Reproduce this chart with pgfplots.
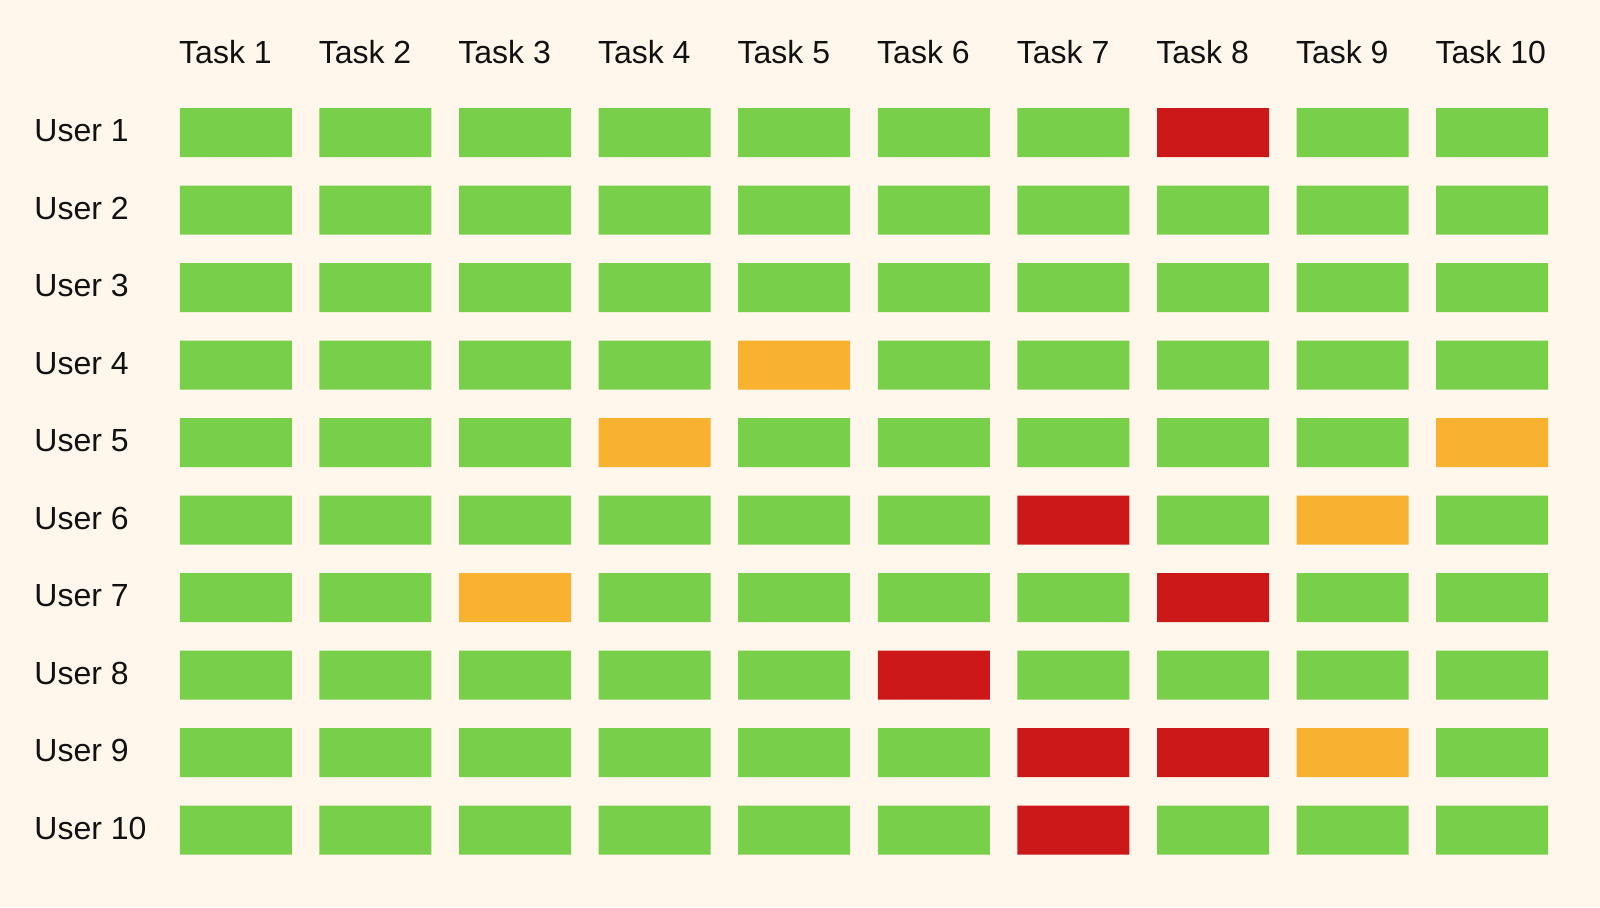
\documentclass[border=0pt]{standalone}
\usepackage{fontspec}
\setmainfont{Liberation Sans}
\usepackage{pgfplots}
\usepackage{pgfplotstable}
\pgfplotsset{compat=1.18}
\definecolor{bg}{HTML}{FFF7EC}
\definecolor{cgreen}{HTML}{78CF4A}
\definecolor{corange}{HTML}{F9B22F}
\definecolor{cred}{HTML}{CC1818}
\definecolor{txt}{HTML}{111111}
\pgfdeclareplotmark{cell}{%
  \pgfsetcornersarced{\pgfqpoint{1.8pt}{1.8pt}}%
  \pgfpathmoveto{\pgfqpoint{0pt}{-12.25pt}}%
  \pgfpathlineto{\pgfqpoint{28pt}{-12.25pt}}%
  \pgfpathlineto{\pgfqpoint{28pt}{12.25pt}}%
  \pgfpathlineto{\pgfqpoint{-28pt}{12.25pt}}%
  \pgfpathlineto{\pgfqpoint{-28pt}{-12.25pt}}%
  \pgfpathclose
  \pgfusepathqfill}
\pgfplotstableread{
x y s
1 1 g
2 1 g
3 1 g
4 1 g
5 1 g
6 1 g
7 1 g
8 1 r
9 1 g
10 1 g
1 2 g
2 2 g
3 2 g
4 2 g
5 2 g
6 2 g
7 2 g
8 2 g
9 2 g
10 2 g
1 3 g
2 3 g
3 3 g
4 3 g
5 3 g
6 3 g
7 3 g
8 3 g
9 3 g
10 3 g
1 4 g
2 4 g
3 4 g
4 4 g
5 4 o
6 4 g
7 4 g
8 4 g
9 4 g
10 4 g
1 5 g
2 5 g
3 5 g
4 5 o
5 5 g
6 5 g
7 5 g
8 5 g
9 5 g
10 5 o
1 6 g
2 6 g
3 6 g
4 6 g
5 6 g
6 6 g
7 6 r
8 6 g
9 6 o
10 6 g
1 7 g
2 7 g
3 7 o
4 7 g
5 7 g
6 7 g
7 7 g
8 7 r
9 7 g
10 7 g
1 8 g
2 8 g
3 8 g
4 8 g
5 8 g
6 8 r
7 8 g
8 8 g
9 8 g
10 8 g
1 9 g
2 9 g
3 9 g
4 9 g
5 9 g
6 9 g
7 9 r
8 9 r
9 9 o
10 9 g
1 10 g
2 10 g
3 10 g
4 10 g
5 10 g
6 10 g
7 10 r
8 10 g
9 10 g
10 10 g
}\cells
\begin{document}
\begin{tikzpicture}
\fill[bg] (0,0) rectangle (800pt,453.5pt);
\begin{axis}[
  at={(83pt,19.08pt)}, anchor=south west,
  scale only axis, width=698pt, height=387.5pt,
  xmin=0.5, xmax=10.5, ymin=0.5, ymax=10.5,
  y dir=reverse, clip=false,
  axis line style={draw=none},
  tick style={draw=none},
  xtick={1,...,10}, ytick={1,...,10},
  xticklabel pos=upper,
  xticklabels={Task 1,Task 2,Task 3,Task 4,Task 5,Task 6,Task 7,Task 8,Task 9,Task 10},
  yticklabels={User 1,User 2,User 3,User 4,User 5,User 6,User 7,User 8,User 9,User 10},
  ticklabel style={font=\fontsize{16}{19}\selectfont, text=txt, inner sep=0pt},
  xticklabel style={anchor=base west, xshift=-28.5pt, yshift=15.4pt},
  yticklabel style={anchor=base west, xshift=-66pt, yshift=-4.6pt},
]
\addplot[scatter, only marks, scatter src=explicit symbolic,
  scatter/classes={
    g={mark=cell, fill=cgreen, draw=none},
    o={mark=cell, fill=corange, draw=none},
    r={mark=cell, fill=cred, draw=none}}]
  table[x=x, y=y, meta=s] {\cells};
\end{axis}
\end{tikzpicture}
\end{document}
